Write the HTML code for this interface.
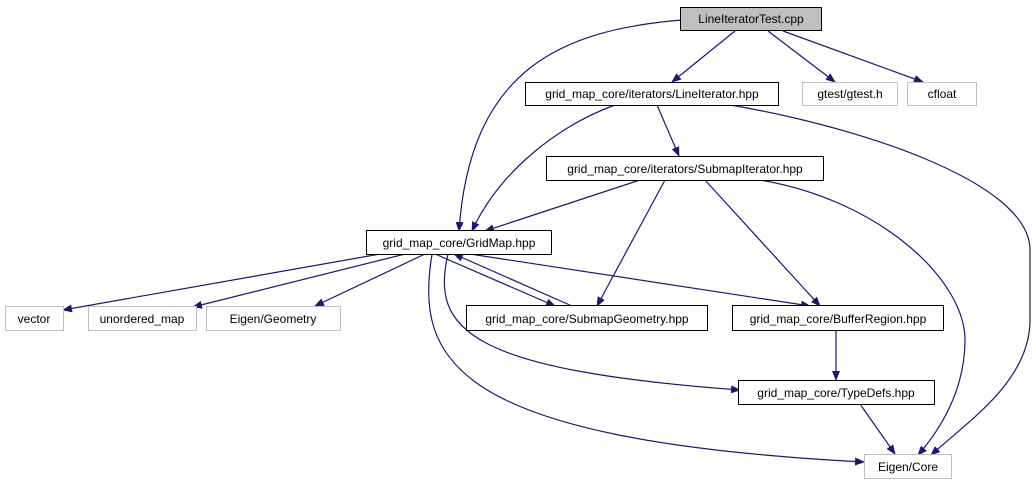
<!DOCTYPE html>
<html><head><meta charset="utf-8"><style>
html,body{margin:0;padding:0;background:#fff;width:1036px;height:485px;overflow:hidden}
svg text{font-family:"Liberation Sans",sans-serif;font-size:12px;fill:#000}
</style></head><body>
<svg width="1036" height="485" viewBox="0 0 1036 485" xmlns="http://www.w3.org/2000/svg">
<defs><marker id="a" markerWidth="10" markerHeight="8" refX="9" refY="4" orient="auto" markerUnits="userSpaceOnUse"><path d="M0,0 L10,4 L0,8 z" fill="#191970"/></marker></defs>
<g fill="none" stroke="#191970" stroke-width="1.2" marker-end="url(#a)">
<path d="M735,31 L672,82"/>
<path d="M768,31 L835,82"/>
<path d="M783,31 L923,82"/>
<path d="M682,20 C560,30 470,70 459,231"/>
<path d="M657,105 L679,156"/>
<path d="M615,105 C560,125 500,170 472,231"/>
<path d="M730,105 C850,125 1030,180 1030,250 L1030,320 C1030,380 970,420 931,455"/>
<path d="M640,180 L485,231"/>
<path d="M665,180 L597,306"/>
<path d="M705,180 L820,306"/>
<path d="M760,180 C880,200 965,280 965,340 C965,390 940,430 918,455"/>
<path d="M380,254 L63,310"/>
<path d="M405,254 L193,307"/>
<path d="M425,254 L315,306"/>
<path d="M435,254 L555,306"/>
<path d="M572,306 L454,254"/>
<path d="M470,254 L810,306"/>
<path d="M448,254 C430,330 470,370 740,390"/>
<path d="M432,254 C415,360 450,440 864,462"/>
<path d="M836,330 L836,380"/>
<path d="M860,404 L895,454"/>
</g>
<g stroke-width="1">
<rect x="680.5" y="7.5" width="141" height="23" fill="#bfbfbf" stroke="#000"/>
<rect x="525.5" y="82.5" width="253" height="23" fill="#fff" stroke="#000"/>
<rect x="802.5" y="82.5" width="95" height="23" fill="#fff" stroke="#bfbfbf"/>
<rect x="907.5" y="82.5" width="69" height="23" fill="#fff" stroke="#bfbfbf"/>
<rect x="546.5" y="156.5" width="277" height="24" fill="#fff" stroke="#000"/>
<rect x="366.5" y="230.5" width="185" height="24" fill="#fff" stroke="#000"/>
<rect x="5.5" y="306.5" width="58" height="24" fill="#fff" stroke="#bfbfbf"/>
<rect x="88.5" y="306.5" width="108" height="24" fill="#fff" stroke="#bfbfbf"/>
<rect x="206.5" y="306.5" width="134" height="24" fill="#fff" stroke="#bfbfbf"/>
<rect x="466.5" y="305.5" width="241" height="25" fill="#fff" stroke="#000"/>
<rect x="732.5" y="305.5" width="211" height="25" fill="#fff" stroke="#000"/>
<rect x="738.5" y="380.5" width="196" height="24" fill="#fff" stroke="#000"/>
<rect x="864.5" y="454.5" width="87" height="24" fill="#fff" stroke="#bfbfbf"/>
</g>
<g text-anchor="middle">
<text x="751" y="23">LineIteratorTest.cpp</text>
<text x="652" y="98">grid_map_core/iterators/LineIterator.hpp</text>
<text x="850" y="98">gtest/gtest.h</text>
<text x="942" y="98">cfloat</text>
<text x="685" y="173">grid_map_core/iterators/SubmapIterator.hpp</text>
<text x="459" y="247">grid_map_core/GridMap.hpp</text>
<text x="34" y="323">vector</text>
<text x="142" y="323">unordered_map</text>
<text x="273" y="323">Eigen/Geometry</text>
<text x="587" y="323">grid_map_core/SubmapGeometry.hpp</text>
<text x="838" y="323">grid_map_core/BufferRegion.hpp</text>
<text x="836" y="397">grid_map_core/TypeDefs.hpp</text>
<text x="908" y="471">Eigen/Core</text>
</g>
</svg>
</body></html>
